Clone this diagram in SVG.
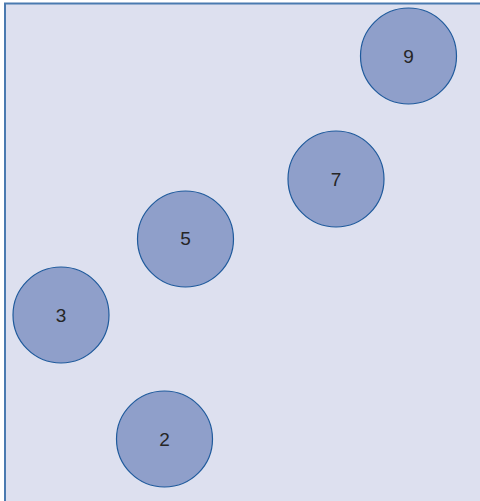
<svg xmlns="http://www.w3.org/2000/svg" width="480" height="501" viewBox="0 0 480 501">
<style>
.node circle{fill:#8f9fca;stroke:#1f5a9c;stroke-width:1.2}
.node text{font-family:"Liberation Sans",Arial,sans-serif;font-size:19px;fill:#262626;text-anchor:middle}
</style>
<rect x="0" y="0" width="480" height="501" fill="#fff"/>
<rect x="5" y="3" width="475" height="498" fill="#dde0ef"/>
<line x1="4" y1="3.5" x2="480" y2="3.5" stroke="#4a7ab0" stroke-width="2"/>
<line x1="5" y1="3" x2="5" y2="501" stroke="#4a7ab0" stroke-width="2"/>
<g id="connectors"></g>
<g id="n9" class="node"><circle cx="408.5" cy="56" r="48"/><text x="408.5" y="63">9</text></g>
<g id="n7" class="node"><circle cx="336" cy="179" r="48"/><text x="336" y="186">7</text></g>
<g id="n5" class="node"><circle cx="185.5" cy="239" r="48"/><text x="185.5" y="245">5</text></g>
<g id="n3" class="node"><circle cx="61" cy="315" r="48"/><text x="61" y="322">3</text></g>
<g id="n2" class="node"><circle cx="164.5" cy="439" r="48"/><text x="164.5" y="446">2</text></g>
</svg>
